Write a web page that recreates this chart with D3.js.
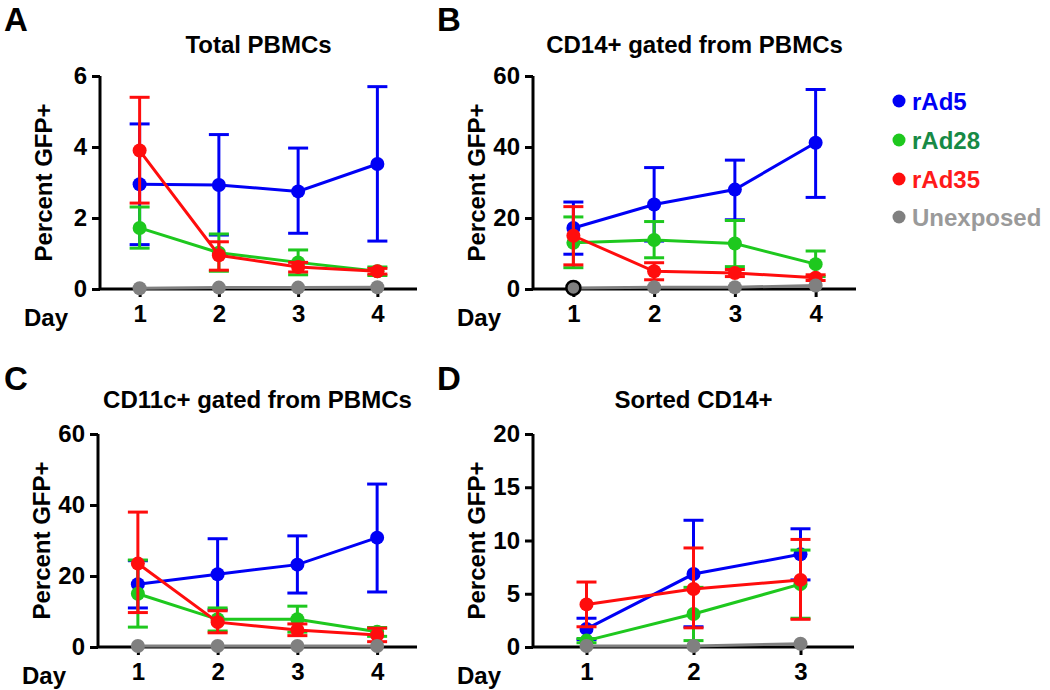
<!DOCTYPE html>
<html>
<head>
<meta charset="utf-8">
<script src="https://cdn.jsdelivr.net/npm/d3@7"></script>
<style>
  html, body { margin: 0; padding: 0; background: #fff; }
  text { font-family: "Liberation Sans", Arial, sans-serif; font-weight: bold; }
</style>
</head>
<body>
<svg id="chart" width="1050" height="690"></svg>
<script>
// ---------- data ----------
const seriesNames = ["rAd5", "rAd28", "rAd35", "Unexposed"];
const daysABC = [1, 2, 3, 4];
const daysD = [1, 2, 3];

const ticksA = [0, 2, 4, 6];
const ticksB = [0, 20, 40, 60];
const ticksC = [0, 20, 40, 60];
const ticksD = [0, 5, 10, 15, 20];

// Panel A: Total PBMCs
const A_rAd5 = [2.95, 2.93, 2.75, 3.52];
const A_rAd5_hi = [4.65, 4.35, 3.97, 5.70];
const A_rAd5_lo = [1.25, 1.52, 1.57, 1.35];
const A_rAd28 = [1.72, 1.02, 0.75, 0.50];
const A_rAd28_hi = [2.31, 1.55, 1.10, 0.62];
const A_rAd28_lo = [1.15, 0.50, 0.40, 0.38];
const A_rAd35 = [3.90, 0.95, 0.62, 0.50];
const A_rAd35_hi = [5.40, 1.33, 0.75, 0.58];
const A_rAd35_lo = [2.42, 0.53, 0.48, 0.42];
const A_unexp = [0.02, 0.04, 0.04, 0.05];

// Panel B: CD14+ gated from PBMCs
const B_rAd5 = [17.2, 23.8, 28.0, 41.2];
const B_rAd5_hi = [24.5, 34.2, 36.3, 56.2];
const B_rAd5_lo = [9.8, 13.5, 19.5, 25.8];
const B_rAd28 = [13.0, 13.8, 12.8, 7.0];
const B_rAd28_hi = [20.3, 19.0, 19.3, 10.7];
const B_rAd28_lo = [6.0, 8.8, 6.3, 3.5];
const B_rAd35 = [15.0, 5.0, 4.5, 3.2];
const B_rAd35_hi = [23.2, 7.4, 5.5, 4.0];
const B_rAd35_lo = [6.8, 2.6, 3.5, 2.4];
const B_unexp = [0.3, 0.5, 0.5, 1.0];

// Panel C: CD11c+ gated from PBMCs
const C_rAd5 = [17.7, 20.5, 23.2, 30.8];
const C_rAd5_hi = [24.3, 30.5, 31.3, 45.9];
const C_rAd5_lo = [11.0, 10.5, 15.2, 15.5];
const C_rAd28 = [15.0, 7.8, 7.8, 4.3];
const C_rAd28_hi = [24.5, 11.0, 11.5, 5.5];
const C_rAd28_lo = [5.6, 4.5, 4.2, 3.0];
const C_rAd35 = [23.5, 7.0, 4.8, 3.4];
const C_rAd35_hi = [38.0, 10.2, 6.5, 5.3];
const C_rAd35_lo = [9.7, 4.0, 3.2, 1.5];
const C_unexp = [0.3, 0.3, 0.3, 0.3];

// Panel D: Sorted CD14+
const D_rAd5 = [1.7, 6.85, 8.7];
const D_rAd5_hi = [2.7, 11.9, 11.1];
const D_rAd5_lo = [0.7, 1.9, 6.3];
const D_rAd28 = [0.6, 3.1, 5.9];
const D_rAd28_hi = [0.8, 5.6, 9.1];
const D_rAd28_lo = [0.4, 0.6, 2.7];
const D_rAd35 = [4.0, 5.45, 6.3];
const D_rAd35_hi = [6.1, 9.3, 10.1];
const D_rAd35_lo = [1.9, 1.8, 2.6];
const D_unexp = [0.1, 0.1, 0.3];

// ---------- styles ----------
const lineColors = { rAd5: "#0000f5", rAd28: "#1ec81e", rAd35: "#ff0d0d", Unexposed: "#808080" };
const legendTextColors = { rAd5: "#0000f5", rAd28: "#178a45", rAd35: "#ff1a1a", Unexposed: "#9a9a9a" };

const svg = d3.select("#chart");

const panels = [
  { letter: "A", title: "Total PBMCs", days: daysABC, ticks: ticksA, ymax: 6,
    x0: 100, x1: 417, yTop: 76, yBot: 289, lx: 4, ly: 31, ty: 53,
    series: [
      { name: "rAd5", v: A_rAd5, hi: A_rAd5_hi, lo: A_rAd5_lo },
      { name: "rAd28", v: A_rAd28, hi: A_rAd28_hi, lo: A_rAd28_lo },
      { name: "rAd35", v: A_rAd35, hi: A_rAd35_hi, lo: A_rAd35_lo },
      { name: "Unexposed", v: A_unexp }
    ] },
  { letter: "B", title: "CD14+ gated from PBMCs", days: daysABC, ticks: ticksB, ymax: 60,
    x0: 533, x1: 856, yTop: 76, yBot: 289, lx: 437, ly: 31, ty: 53,
    series: [
      { name: "rAd5", v: B_rAd5, hi: B_rAd5_hi, lo: B_rAd5_lo },
      { name: "rAd28", v: B_rAd28, hi: B_rAd28_hi, lo: B_rAd28_lo },
      { name: "rAd35", v: B_rAd35, hi: B_rAd35_hi, lo: B_rAd35_lo },
      { name: "Unexposed", v: B_unexp, firstOutlined: true }
    ] },
  { letter: "C", title: "CD11c+ gated from PBMCs", days: daysABC, ticks: ticksC, ymax: 60,
    x0: 98, x1: 417, yTop: 434, yBot: 647, lx: 4, ly: 390, ty: 408,
    series: [
      { name: "rAd5", v: C_rAd5, hi: C_rAd5_hi, lo: C_rAd5_lo },
      { name: "rAd28", v: C_rAd28, hi: C_rAd28_hi, lo: C_rAd28_lo },
      { name: "rAd35", v: C_rAd35, hi: C_rAd35_hi, lo: C_rAd35_lo },
      { name: "Unexposed", v: C_unexp }
    ] },
  { letter: "D", title: "Sorted CD14+", days: daysD, ticks: ticksD, ymax: 20,
    x0: 533, x1: 854, yTop: 434, yBot: 647, lx: 437, ly: 390, ty: 408,
    series: [
      { name: "rAd5", v: D_rAd5, hi: D_rAd5_hi, lo: D_rAd5_lo },
      { name: "rAd28", v: D_rAd28, hi: D_rAd28_hi, lo: D_rAd28_lo },
      { name: "rAd35", v: D_rAd35, hi: D_rAd35_hi, lo: D_rAd35_lo },
      { name: "Unexposed", v: D_unexp }
    ] }
];

const FS = 24;

panels.forEach(p => {
  const g = svg.append("g");
  const n = p.days.length;
  const x = d3.scaleLinear().domain([0.5, n + 0.5]).range([p.x0, p.x1]);
  const y = d3.scaleLinear().domain([0, p.ymax]).range([p.yBot, p.yTop]);

  // panel letter
  g.append("text").attr("x", p.lx).attr("y", p.ly).attr("font-size", 33).text(p.letter);
  // title
  g.append("text").attr("x", (p.x0 + p.x1) / 2).attr("y", p.ty).attr("text-anchor", "middle")
    .attr("font-size", FS).text(p.title);

  // y axis
  const yAxis = d3.axisLeft(y).tickValues(p.ticks).tickSize(8).tickPadding(5).tickFormat(d3.format("d"));
  const ya = g.append("g").attr("transform", `translate(${p.x0},0)`).call(yAxis);
  // x axis
  const xAxis = d3.axisBottom(x).tickValues(p.days).tickSize(8).tickPadding(8).tickFormat(d3.format("d"));
  const xa = g.append("g").attr("transform", `translate(0,${p.yBot})`).call(xAxis);

  [ya, xa].forEach(a => {
    a.select(".domain").attr("stroke", "#000").attr("stroke-width", 3)
      .attr("d", a === ya ? `M0,${p.yBot}V${p.yTop}` : `M${p.x0},0H${p.x1}`);
    a.selectAll(".tick line").attr("stroke", "#000").attr("stroke-width", 3);
    a.selectAll(".tick text").attr("font-size", FS).attr("fill", "#000")
      .attr("font-family", "Liberation Sans, Arial, sans-serif").attr("font-weight", "bold");
  });
  xa.selectAll(".tick text").attr("dy", "0.71em");

  // "Day" label
  g.append("text").attr("x", p.x0 - 32).attr("y", p.yBot + 37).attr("text-anchor", "end")
    .attr("font-size", FS).text("Day");

  // y label
  g.append("text")
    .attr("transform", `translate(${p.x0 - 48},${(p.yTop + p.yBot) / 2}) rotate(-90)`)
    .attr("text-anchor", "middle").attr("font-size", FS).text("Percent GFP+");

  // series
  const line = d3.line().x(d => x(d.day)).y(d => y(d.v));
  p.series.forEach(s => {
    const col = lineColors[s.name];
    const pts = p.days.map((day, i) => ({ day, v: s.v[i], hi: s.hi ? s.hi[i] : null, lo: s.lo ? s.lo[i] : null }));
    const sg = g.append("g");
    // error bars
    pts.filter(d => d.hi !== null).forEach(d => {
      sg.append("line").attr("x1", x(d.day)).attr("x2", x(d.day)).attr("y1", y(d.hi)).attr("y2", y(d.lo))
        .attr("stroke", col).attr("stroke-width", 3);
      [d.hi, d.lo].forEach(val => {
        sg.append("line").attr("x1", x(d.day) - 10).attr("x2", x(d.day) + 10)
          .attr("y1", y(val)).attr("y2", y(val)).attr("stroke", col).attr("stroke-width", 3);
      });
    });
    sg.append("path").datum(pts).attr("d", line).attr("fill", "none")
      .attr("stroke", col).attr("stroke-width", 3);
    sg.selectAll("circle").data(pts).join("circle")
      .attr("cx", d => x(d.day)).attr("cy", d => y(d.v)).attr("r", 7)
      .attr("fill", col)
      .attr("stroke", (d, i) => (s.firstOutlined && i === 0) ? "#000" : "none")
      .attr("stroke-width", 2.5);
  });
});

// legend
const legendY = [101, 140, 179, 217];
const lg = svg.append("g");
seriesNames.forEach((name, i) => {
  lg.append("circle").attr("cx", 899).attr("cy", legendY[i]).attr("r", 6.5).attr("fill", lineColors[name]);
  lg.append("text").attr("x", 912).attr("y", legendY[i] + 8.5).attr("font-size", FS)
    .attr("fill", legendTextColors[name]).text(name);
});
</script>
</body>
</html>
